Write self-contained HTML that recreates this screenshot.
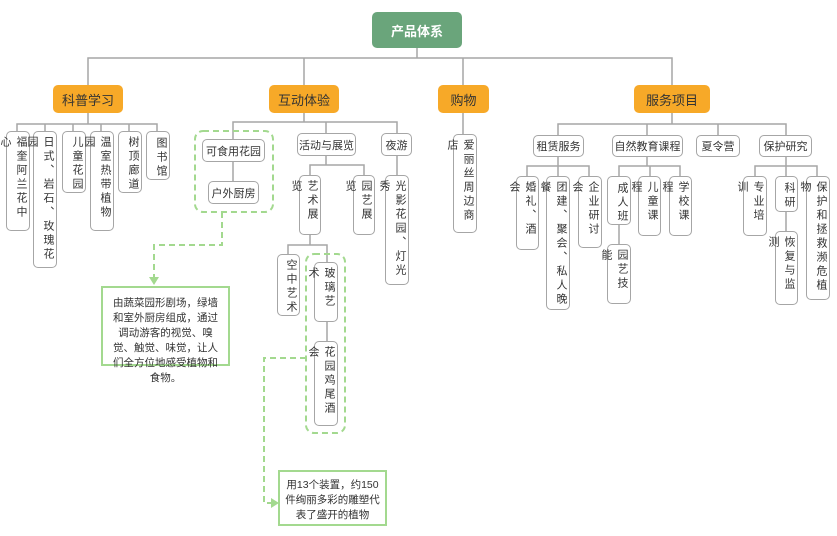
<!DOCTYPE html>
<html><head><meta charset="utf-8"><style>
body{margin:0;width:837px;height:536px;background:#fff;position:relative;overflow:hidden;font-family:"Liberation Sans","Noto Sans CJK SC",sans-serif;}
.n{position:absolute;box-sizing:border-box;border:1.5px solid #a6a6a6;border-radius:5px;background:#fff;display:flex;align-items:center;justify-content:center;font-size:11px;color:#333;}
.v{writing-mode:vertical-rl;text-orientation:upright;letter-spacing:3px;align-items:flex-start;padding-top:4px;}
.o{position:absolute;box-sizing:border-box;background:#f7a928;border-radius:5px;display:flex;align-items:center;justify-content:center;font-size:13px;color:#333;}
.c{position:absolute;box-sizing:border-box;border:2px solid #a3d98f;background:#fff;font-size:10.5px;color:#333;text-align:center;line-height:15px;}
svg{position:absolute;left:0;top:0;}
</style></head><body>
<svg width="837" height="536">
<g fill="none" stroke="#a6a6a6" stroke-width="1.5">
<path d="M417 48V58M88 85V58H672V85M304 58V85M463 58V85"/>
<path d="M88 113V124M17 131V124H157V131M45 124V131M73 124V131M101 124V131M129 124V131"/>
<path d="M304 113V122M233 139V122H397V133M326 122V133M233 162V181"/>
<path d="M326 156V165M310 175V165H364V175M397 156V175"/>
<path d="M310 235V245M288 254V245H327V262M327 322V341"/>
<path d="M463 113V134"/>
<path d="M672 113V124M558 135V124H786V135M647 124V135M718 124V135"/>
<path d="M558 157V166M527 176V166H589V176M558 166V176"/>
<path d="M647 157V166M619 176V166H680V176M650 166V176M619 225V244"/>
<path d="M786 157V166M755 176V166H817V176M786 166V176M786 212V231"/>
</g>
<g fill="none" stroke="#a3d98f" stroke-width="2" stroke-dasharray="6 4">
<rect x="195" y="131" width="78" height="81" rx="8"/>
<rect x="306" y="254" width="39" height="179" rx="8"/>
<path d="M222 212V245H154V278"/>
<path d="M306 358H264V503H272"/>
</g>
<path d="M149 277L159 277L154 285Z" fill="#a3d98f"/>
<path d="M271 498L279 503L271 508Z" fill="#a3d98f"/>
</svg>
<div class="o" style="left:372px;top:12px;width:90px;height:36px;background:#6aa57b;color:#fff;font-weight:bold;font-size:13px">产品体系</div>
<div class="o" style="left:53px;top:85px;width:70px;height:28px">科普学习</div>
<div class="o" style="left:269px;top:85px;width:70px;height:28px">互动体验</div>
<div class="o" style="left:438px;top:85px;width:51px;height:28px">购物</div>
<div class="o" style="left:634px;top:85px;width:76px;height:28px">服务项目</div>

<div class="n v" style="left:6px;top:131px;width:24px;height:100px">福奎阿兰花中心</div>
<div class="n v" style="left:33px;top:131px;width:24px;height:137px">日式、岩石、玫瑰花园</div>
<div class="n v" style="left:62px;top:131px;width:24px;height:62px">儿童花园</div>
<div class="n v" style="left:90px;top:131px;width:24px;height:100px">温室热带植物园</div>
<div class="n v" style="left:118px;top:131px;width:24px;height:62px">树顶廊道</div>
<div class="n v" style="left:146px;top:131px;width:24px;height:49px">图书馆</div>

<div class="n" style="left:202px;top:139px;width:63px;height:23px">可食用花园</div>
<div class="n" style="left:208px;top:181px;width:51px;height:23px">户外厨房</div>
<div class="n" style="left:297px;top:133px;width:59px;height:23px">活动与展览</div>
<div class="n" style="left:381px;top:133px;width:31px;height:23px">夜游</div>
<div class="n v" style="left:299px;top:175px;width:22px;height:60px">艺术展览</div>
<div class="n v" style="left:353px;top:175px;width:22px;height:60px">园艺展览</div>
<div class="n v" style="left:385px;top:175px;width:24px;height:110px">光影花园、灯光秀</div>
<div class="n v" style="left:277px;top:254px;width:23px;height:62px">空中艺术</div>
<div class="n v" style="left:314px;top:262px;width:24px;height:60px">玻璃艺术</div>
<div class="n v" style="left:314px;top:341px;width:24px;height:85px">花园鸡尾酒会</div>

<div class="n v" style="left:453px;top:134px;width:24px;height:99px">爱丽丝周边商店</div>

<div class="n" style="left:533px;top:135px;width:51px;height:22px">租赁服务</div>
<div class="n" style="left:612px;top:135px;width:71px;height:22px">自然教育课程</div>
<div class="n" style="left:696px;top:135px;width:44px;height:22px">夏令营</div>
<div class="n" style="left:759px;top:135px;width:53px;height:22px">保护研究</div>
<div class="n v" style="left:516px;top:176px;width:23px;height:74px">婚礼、酒会</div>
<div class="n v" style="left:546px;top:176px;width:24px;height:134px">团建、聚会、私人晚餐</div>
<div class="n v" style="left:578px;top:176px;width:24px;height:72px">企业研讨会</div>
<div class="n v" style="left:607px;top:176px;width:24px;height:49px">成人班</div>
<div class="n v" style="left:607px;top:244px;width:24px;height:60px">园艺技能</div>
<div class="n v" style="left:638px;top:176px;width:23px;height:60px">儿童课程</div>
<div class="n v" style="left:669px;top:176px;width:23px;height:60px">学校课程</div>
<div class="n v" style="left:743px;top:176px;width:24px;height:60px">专业培训</div>
<div class="n v" style="left:775px;top:176px;width:23px;height:36px">科研</div>
<div class="n v" style="left:775px;top:231px;width:23px;height:74px">恢复与监测</div>
<div class="n v" style="left:806px;top:176px;width:24px;height:124px">保护和拯救濒危植物</div>

<div class="c" style="left:101px;top:286px;width:129px;height:80px;padding:8px 6px">由蔬菜园形剧场，绿墙和室外厨房组成，通过调动游客的视觉、嗅觉、触觉、味觉，让人们全方位地感受植物和食物。</div>
<div class="c" style="left:278px;top:470px;width:109px;height:56px;padding:6px 5px">用13个装置，约150件绚丽多彩的雕塑代表了盛开的植物</div>
</body></html>
